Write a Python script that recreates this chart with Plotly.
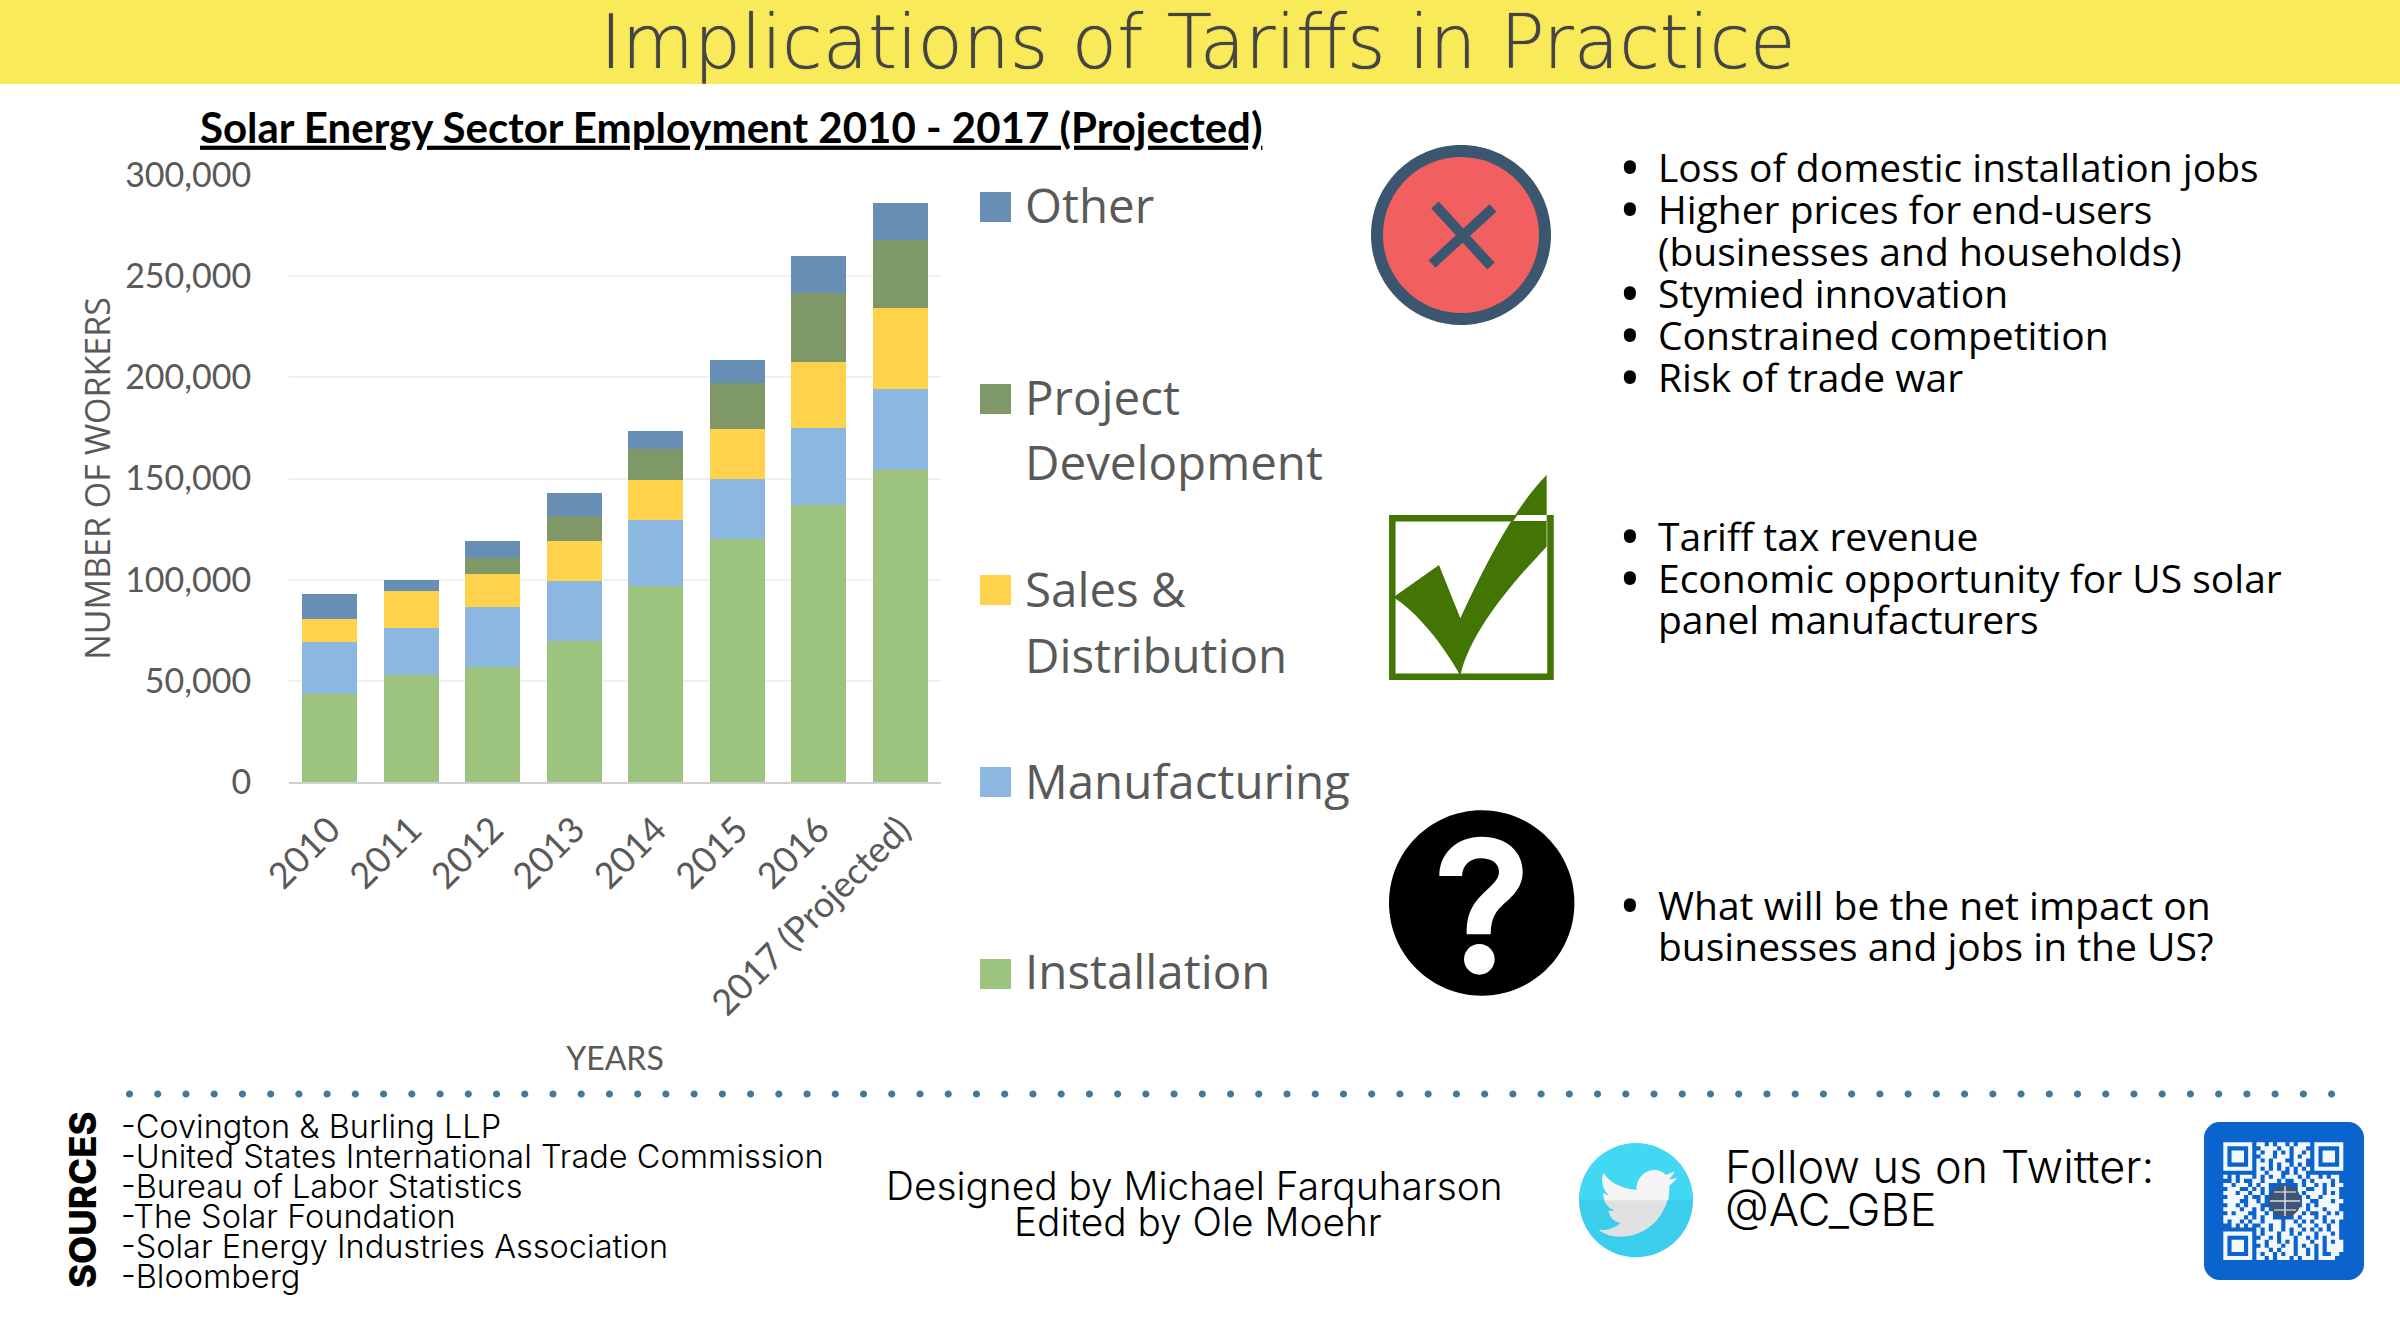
import numpy as np
import plotly.graph_objects as go

W, H = 2400, 1335

# chart data
YEARS = ['2010', '2011', '2012', '2013', '2014', '2015', '2016', '2017 (Projected)']
INSTALLATION = [43600, 52900, 56700, 69900, 97100, 120000, 136800, 154300]
MANUFACTURING = [25600, 23300, 30000, 29500, 32500, 30000, 38100, 39900]
SALES = [11400, 18200, 16300, 19900, 19900, 24500, 32700, 40000]
PROJECT = [0, 0, 7700, 12100, 15200, 22500, 34000, 33800]
OTHER = [12400, 5400, 8600, 11300, 8900, 11700, 18600, 18300]

SERIES = [
    ('Installation', INSTALLATION, '#9DC47E'),
    ('Manufacturing', MANUFACTURING, '#8BB7E0'),
    ('Sales & Distribution', SALES, '#FFD24B'),
    ('Project Development', PROJECT, '#7E9868'),
    ('Other', OTHER, '#678EB5'),
]

# texts
TITLE = 'Implications of Tariffs in Practice'
CHART_TITLE = 'Solar Energy Sector Employment 2010 - 2017 (Projected)'
LOSSES = ['Loss of domestic installation jobs', 'Higher prices for end-users',
          '(businesses and households)', 'Stymied innovation',
          'Constrained competition', 'Risk of trade war']
GAINS = ['Tariff tax revenue', 'Economic opportunity for US solar', 'panel manufacturers']
QUESTION = ['What will be the net impact on', 'businesses and jobs in the US?']
SOURCES = ['-Covington & Burling LLP', '-United States International Trade Commission',
           '-Bureau of Labor Statistics', '-The Solar Foundation',
           '-Solar Energy Industries Association', '-Bloomberg']

QR_ROWS = [
    '#######.##.#.##.#.###.#######',
    '#.....#..####.##.###..#.....#',
    '#.###.#.#.##.#.#.##.#.#.###.#',
    '#.###.#..###.###.#.##.#.###.#',
    '#.###.#.#.#.###..###..#.###.#',
    '#.....#.###.#.##.#.#..#.....#',
    '#######.#.#.#.#.#.#.#.#######',
    '........##.###..#.##.........',
    '#.#.###.#.#.##.###.#.##.#.##.',
    '..#.#..##.###.#..##.#.####.#.',
    '##.###.#.##.......#.##.#.#.##',
    '.###..#.#.#.......##..##.###.',
    '###.##.##.#.......#.####.#.#.',
    '.####.#..#.........#.##.####.',
    '####..##.#.........##..###.##',
    '.##.#.###..........#.#.#####.',
    '####.##.#.#.......##.###.###.',
    '.#.###..##.#.....##.#..##.#.#',
    '#####.#.#.##.....#.###.#.####',
    '#.##.#.##.####.##.#.#.##.#.#.',
    '..#.#.#..##.##.###.###.##.##.',
    '........#.#.##.#.##.#.#.#.##.',
    '#######.#.###.##.#.###.###.#.',
    '#.....#..##.#.###.##.#.#.###.',
    '#.###.#.##.##.#.#.###.##.#.##',
    '#.###.#..#.###.##.#.##.#.####',
    '#.###.#.###.#.###.##.#.#.####',
    '#.....#.#.##.#.##.##.#.#..##.',
    '#######.##.#.###.#.###.####..',
]

SANS = 'Inter'
BODY = 'Open Sans'
CHART = 'Lato'
GREY = '#595959'


def px(x):
    return x / W


def py(y):
    return 1 - y / H


def to_path(cmds, x0=0, y0=0, k=1):
    # cmds: 'M 130 130 C ...' in crop pixels -> paper coords
    out = []
    is_x = True
    for tok in cmds.split():
        if tok.isalpha():
            out.append(tok)
            is_x = True
        else:
            v = float(tok) / k
            out.append(f'{px(v + x0):.5f}' if is_x else f'{py(v + y0):.5f}')
            is_x = not is_x
    return ' '.join(out)


def circle_path(cx, cy, r):
    c = r * 0.5523
    return (f'M {cx - r} {cy} C {cx - r} {cy - c} {cx - c} {cy - r} {cx} {cy - r} '
            f'C {cx + c} {cy - r} {cx + r} {cy - c} {cx + r} {cy} '
            f'C {cx + r} {cy + c} {cx + c} {cy + r} {cx} {cy + r} '
            f'C {cx - c} {cy + r} {cx - r} {cy + c} {cx - r} {cy} Z')


shapes = []


def add_path(cmds, color, x0=0, y0=0, k=1, layer='above'):
    shapes.append(dict(type='path', xref='paper', yref='paper', path=to_path(cmds, x0, y0, k),
                       fillcolor=color, line=dict(width=0), layer=layer))


def add_rect(x1, y1, x2, y2, color, layer='above', line=None):
    shapes.append(dict(type='rect', xref='paper', yref='paper', x0=px(x1), x1=px(x2), y0=py(y1), y1=py(y2),
                       fillcolor=color, line=line or dict(width=0), layer=layer))


def add_circle(cx, cy, r, color):
    add_path(circle_path(cx, cy, r), color)


def add_line(x1, y1, x2, y2, color, width):
    shapes.append(dict(type='line', xref='paper', yref='paper', x0=px(x1), x1=px(x2), y0=py(y1), y1=py(y2),
                       line=dict(color=color, width=width), layer='above'))


annotations = []


def add_text(text, x, y, size, font=BODY, color='black', anchor='left', weight=None, angle=0, shadow=None):
    f = dict(family=font, size=size, color=color)
    if weight:
        f['weight'] = weight
    if shadow:
        f['shadow'] = shadow
    annotations.append(dict(text=text, x=px(x), y=py(y), xref='paper', yref='paper', showarrow=False,
                            xanchor=anchor, yanchor='middle', font=f, textangle=angle,
                            borderpad=0, borderwidth=0))


fig = go.Figure()
for name, vals, color in SERIES:
    fig.add_trace(go.Bar(name=name, x=YEARS, y=vals, marker=dict(color=color, line=dict(width=0))))

# header band
add_rect(0, 0, W, 84, '#F9EA5A', layer='below')
# extra light face is too thin on its own, thicken it a bit with a tight shadow
add_text(TITLE, 1198, 42.5, 74, font='DejaVu Sans', color='#444444', anchor='center', weight=300,
         shadow='0 0 1px #444444')

# hand placed legend, the labels wrap and sit far apart in the original
LEGEND = [
    ('#678EB5', 192, [('Other', 205)]),
    ('#7E9868', 384, [('Project', 396), ('Development', 461)]),
    ('#FFD24B', 575, [('Sales &', 588), ('Distribution', 654)]),
    ('#8BB7E0', 767, [('Manufacturing', 780)]),
    ('#9DC47E', 959, [('Installation', 970)]),
]
for color, top, labels in LEGEND:
    add_rect(980, top, 1011, top + 30, color)
    for label, y in labels:
        add_text(label, 1025, y, 47.5, font=BODY, color=GREY)

# red x icon
add_circle(1461, 235, 90, '#3B566F')
add_circle(1461, 235, 78, '#F15F60')
add_line(1435, 205, 1491, 266, '#3B566F', 10)
add_line(1493, 208, 1432, 264, '#3B566F', 10)

# check box icon
add_rect(1392.3, 518.3, 1550.5, 676.7, 'rgba(0,0,0,0)', line=dict(color='#437505', width=6.5))
TICK = ('M 40 397 L 177 300 L 241 460 C 310 310 400 130 500 30 L 500 245 '
        'C 400 350 270 500 241 632 C 190 540 110 440 40 397 Z')
add_path(TICK, '#437505', 1380, 465, 3)
add_path('M 412 150 L 500 150 L 500 168 L 400 168 Z', 'white', 1380, 465, 3)

# question icon
add_circle(1481.7, 903, 92.7, 'black')
QMARK = ('M 178 228 C 178 160 230 110 305 110 C 380 110 428 155 428 215 C 428 265 395 290 365 318 '
         'C 340 342 333 365 332 403 L 260 403 C 260 350 270 320 310 280 C 340 250 357 238 357 215 '
         'C 357 190 335 175 302 175 C 270 175 248 195 246 228 Z')
add_path(QMARK, 'white', 1380, 800, 3)
add_path(circle_path(298, 478, 46), 'white', 1380, 800, 3)

# bullets on the right
for lines, ys, marks in [
    (LOSSES, [166.5, 208.5, 250, 292.5, 334, 376.5], [0, 1, 3, 4, 5]),
    (GAINS, [535.5, 577.5, 618.5], [0, 1]),
    (QUESTION, [904.5, 945.5], [0]),
]:
    for i, (line, y) in enumerate(zip(lines, ys)):
        add_text(line, 1658, y, 39)
        if i in marks:
            add_text('•', 1630, y, 58, anchor='center')

# dotted divider
for x in np.linspace(129.5, 2331.6, 79):
    add_circle(x, 1094, 3.6, '#3F7A98')

# footer left
add_text('SOURCES', 83, 1200, 36.5, font=SANS, weight=800, angle=-90, anchor='center')
for i, line in enumerate(SOURCES):
    add_text(line, 121, 1126.5 + i * 30, 32.5, font=SANS, weight=300)

# footer middle
add_text('Designed by Michael Farquharson', 1194, 1185.5, 38.8, font=SANS, weight=300, anchor='center')
add_text('Edited by Ole Moehr', 1198, 1221.5, 38.8, font=SANS, weight=300, anchor='center')

# twitter icon
add_circle(1636, 1200.3, 57, '#3BCDEC')
add_path('M 57 211 C 57 117 133 40 228 40 C 323 40 399 117 399 211 Z', '#42D8F3', 1560, 1130, 3)
BIRD = ('M 130 130 C 150 160 190 178 230 180 C 228 145 255 120 285 120 C 300 120 310 128 318 135 '
        'C 328 133 336 128 343 124 C 340 135 332 143 325 148 C 335 148 343 146 351 143 '
        'C 345 152 336 160 328 166 C 330 240 275 320 180 320 C 155 320 133 313 116 300 '
        'C 140 302 165 295 182 278 C 165 277 150 265 145 242 C 152 243 158 243 162 240 '
        'C 143 235 128 215 130 190 C 135 192 140 195 147 197 C 130 180 122 155 130 130 Z')
BIRD_TOP = ('M 130 130 C 150 160 190 178 230 180 C 228 145 255 120 285 120 C 300 120 310 128 318 135 '
            'C 328 133 336 128 343 124 C 340 135 332 143 325 148 C 335 148 343 146 351 143 '
            'C 345 152 336 160 328 166 C 328 180 327 195 325 211 L 136 211 C 132 205 130 198 130 190 '
            'C 135 192 140 195 147 197 C 130 180 122 155 130 130 Z')
add_path(BIRD, '#E0E0E0', 1560, 1130, 3)
add_path(BIRD_TOP, '#F5F5F5', 1560, 1130, 3)

add_text('Follow us on Twitter:', 1725, 1166, 45, font=SANS, weight=300)
add_text('@AC_GBE', 1725, 1209, 45, font=SANS, weight=300)

# qr code
r = 15
add_path(f'M {2204 + r} 1122 L {2364 - r} 1122 C {2364 - r / 2} 1122 2364 {1122 + r / 2} 2364 {1122 + r} '
         f'L 2364 {1280 - r} C 2364 {1280 - r / 2} {2364 - r / 2} 1280 {2364 - r} 1280 '
         f'L {2204 + r} 1280 C {2204 + r / 2} 1280 2204 {1280 - r / 2} 2204 {1280 - r} '
         f'L 2204 {1122 + r} C 2204 {1122 + r / 2} {2204 + r / 2} 1122 {2204 + r} 1122 Z', '#0B64CE')
cell_w, cell_h = 120 / 29, 117.7 / 29
cells = []
for row, line in enumerate(QR_ROWS):
    for col, c in enumerate(line):
        if c == '#':
            x1, y1 = 2223.3 + col * cell_w, 1142.3 + row * cell_h
            cells.append(f'M {x1} {y1} L {x1 + cell_w} {y1} L {x1 + cell_w} {y1 + cell_h} L {x1} {y1 + cell_h} Z')
add_path(' '.join(cells), '#F4F8FD')
add_circle(2285, 1201, 16, '#3F5573')
add_line(2285, 1186, 2285, 1216, '#D8E0EA', 1.5)
add_line(2270, 1201, 2300, 1201, '#D8E0EA', 1.5)
add_line(2274, 1192, 2296, 1192, '#D8E0EA', 1.2)
add_line(2274, 1210, 2296, 1210, '#D8E0EA', 1.2)

fig.update_layout(
    width=W, height=H,
    margin=dict(l=0, r=0, t=0, b=0),
    paper_bgcolor='white', plot_bgcolor='white',
    barmode='stack', bargap=0.33, showlegend=False,
    title=dict(text=f'<u>{CHART_TITLE}</u>', x=px(200), xanchor='left', xref='paper',
               y=py(128), yanchor='middle', yref='paper',
               font=dict(family=CHART, size=42, color='black', weight=700)),
    shapes=shapes, annotations=annotations,
)
fig.update_xaxes(
    domain=[px(289), px(941)], type='category', tickangle=-45, automargin=False,
    tickfont=dict(family=CHART, size=36, color=GREY),
    ticks='outside', ticklen=10, tickcolor='rgba(0,0,0,0)',
    showline=True, linecolor='#D0D0D0', linewidth=2, showgrid=False,
    title=dict(text='YEARS', font=dict(family=CHART, size=32, color=GREY), standoff=25),
)
fig.update_yaxes(
    domain=[py(782), py(175)], range=[0, 300000], dtick=50000, tickformat=',', automargin=False,
    tickfont=dict(family=CHART, size=34, color=GREY),
    ticks='outside', ticklen=30, tickcolor='rgba(0,0,0,0)',
    showline=False, gridcolor='#F0F0F0', gridwidth=2, zeroline=False,
    title=dict(text='NUMBER OF WORKERS', font=dict(family=BODY, size=34, color=GREY), standoff=4),
)

fig.write_html('out.html', config=dict(displayModeBar=False),
               post_script="document.body.style.margin='0';document.body.style.overflow='hidden';")
